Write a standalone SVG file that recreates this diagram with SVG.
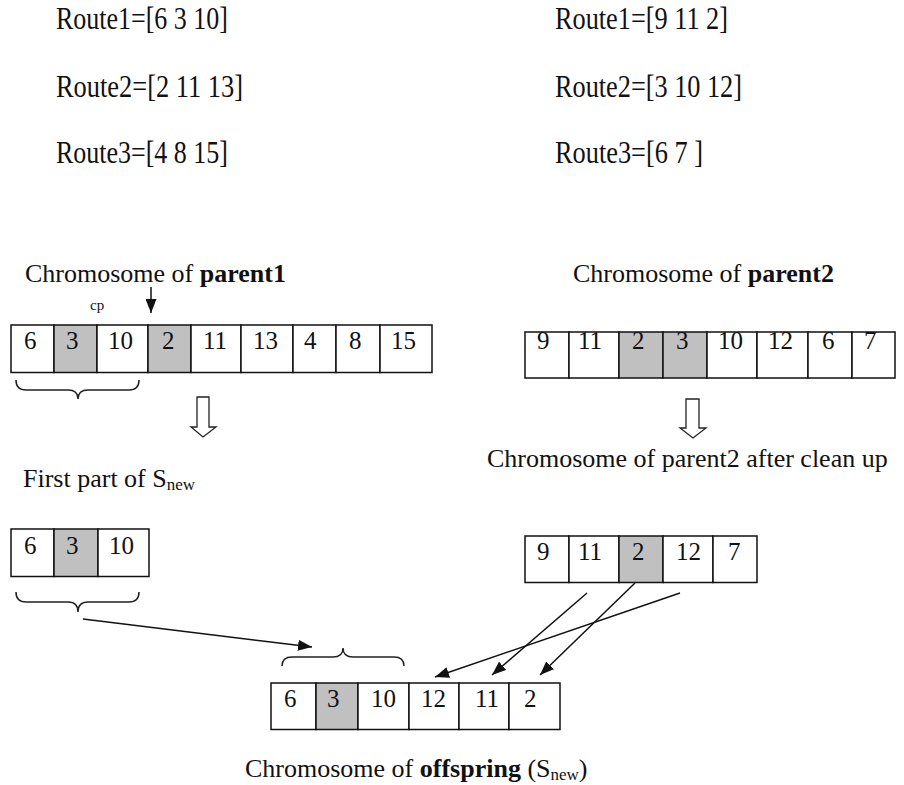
<svg xmlns="http://www.w3.org/2000/svg" width="904" height="785" viewBox="0 0 904 785">
<defs>
<style>
text{font-family:"Liberation Serif","Times New Roman",serif;fill:#111}
.rt{font-size:31px}
.cap{font-size:26px}
.sub{font-size:17px}
.num{font-size:25px}
.cell{fill:#fff;stroke:#111;stroke-width:1.5}
.gray{fill:#c0c0c0}
.ln{stroke:#111;stroke-width:1.5;fill:none}
.brace{stroke:#222;stroke-width:1.5;fill:none}
.hollow{fill:#fff;stroke:#222;stroke-width:1.3}
</style>
<marker id="ah" markerUnits="userSpaceOnUse" markerWidth="14" markerHeight="11" refX="14" refY="5.5" orient="auto">
<path d="M0,0 L14,5.5 L0,11 Z" fill="#111"/>
</marker>
</defs>
<rect width="904" height="785" fill="#fff"/>

<g id="routes-parent1">
<text class="rt" x="56" y="29" textLength="172" lengthAdjust="spacingAndGlyphs">Route1=[6 3 10]</text>
<text class="rt" x="56" y="97" textLength="187" lengthAdjust="spacingAndGlyphs">Route2=[2 11 13]</text>
<text class="rt" x="56" y="163" textLength="172" lengthAdjust="spacingAndGlyphs">Route3=[4 8 15]</text>
</g>
<g id="routes-parent2">
<text class="rt" x="555" y="29" textLength="173" lengthAdjust="spacingAndGlyphs">Route1=[9 11 2]</text>
<text class="rt" x="555" y="97" textLength="187" lengthAdjust="spacingAndGlyphs">Route2=[3 10 12]</text>
<text class="rt" x="555" y="163" textLength="148" lengthAdjust="spacingAndGlyphs">Route3=[6 7 ]</text>
</g>

<g id="parent1">
<text class="cap" x="25" y="282">Chromosome of <tspan font-weight="bold">parent1</tspan></text>
<text x="90" y="310" font-size="15">cp</text>
<rect class="cell" x="11" y="325" width="43" height="47.5"/>
<rect class="cell gray" x="54" y="325" width="43" height="47.5"/>
<rect class="cell" x="97" y="325" width="51" height="47.5"/>
<rect class="cell gray" x="148" y="325" width="43" height="47.5"/>
<rect class="cell" x="191" y="325" width="50" height="47.5"/>
<rect class="cell" x="241" y="325" width="52" height="47.5"/>
<rect class="cell" x="293" y="325" width="43" height="47.5"/>
<rect class="cell" x="336" y="325" width="44" height="47.5"/>
<rect class="cell" x="380" y="325" width="52" height="47.5"/>
<text class="num" x="24" y="349">6</text>
<text class="num" x="66" y="349">3</text>
<text class="num" x="108" y="349">10</text>
<text class="num" x="162" y="349">2</text>
<text class="num" x="203" y="349">11</text>
<text class="num" x="253" y="349">13</text>
<text class="num" x="304" y="349">4</text>
<text class="num" x="349" y="349">8</text>
<text class="num" x="391" y="349">15</text>
<path class="brace" d="M16,380 Q16,390 26,390 L68,390 Q78,390 78,399 Q78,390 88,390 L129,390 Q139,390 139,380"/>
</g>

<g id="parent2">
<text class="cap" x="573" y="282">Chromosome of <tspan font-weight="bold">parent2</tspan></text>
<rect class="cell" x="525" y="332" width="44" height="46"/>
<rect class="cell" x="569" y="332" width="50" height="46"/>
<rect class="cell gray" x="619" y="332" width="44" height="46"/>
<rect class="cell gray" x="663" y="332" width="44" height="46"/>
<rect class="cell" x="707" y="332" width="50" height="46"/>
<rect class="cell" x="757" y="332" width="51" height="46"/>
<rect class="cell" x="808" y="332" width="44" height="46"/>
<rect class="cell" x="852" y="332" width="43" height="46"/>
<text class="num" x="537" y="349">9</text>
<text class="num" x="578" y="349">11</text>
<text class="num" x="632" y="349">2</text>
<text class="num" x="676" y="349">3</text>
<text class="num" x="718" y="349">10</text>
<text class="num" x="768" y="349">12</text>
<text class="num" x="822" y="349">6</text>
<text class="num" x="864" y="349">7</text>
</g>

<g id="first-part">
<text class="cap" x="23" y="487">First part of S<tspan class="sub" dy="3">new</tspan></text>
<rect class="cell" x="11" y="529" width="43" height="47.5"/>
<rect class="cell gray" x="54" y="529" width="44" height="47.5"/>
<rect class="cell" x="98" y="529" width="51" height="47.5"/>
<text class="num" x="24" y="554">6</text>
<text class="num" x="66" y="554">3</text>
<text class="num" x="109" y="554">10</text>
<path class="brace" d="M16,592 Q16,602 26,602 L68,602 Q78,602 78,612 Q78,602 88,602 L129,602 Q139,602 139,592"/>
</g>

<g id="parent2-clean">
<text class="cap" x="487" y="467">Chromosome of parent2 after clean up</text>
<rect class="cell" x="525" y="536" width="44" height="46.5"/>
<rect class="cell" x="569" y="536" width="50" height="46.5"/>
<rect class="cell gray" x="619" y="536" width="44" height="46.5"/>
<rect class="cell" x="663" y="536" width="50" height="46.5"/>
<rect class="cell" x="713" y="536" width="44" height="46.5"/>
<text class="num" x="537" y="560">9</text>
<text class="num" x="578" y="560">11</text>
<text class="num" x="632" y="560">2</text>
<text class="num" x="676" y="560">12</text>
<text class="num" x="728" y="560">7</text>
</g>

<g id="offspring">
<rect class="cell" x="271" y="683" width="45" height="46.5"/>
<rect class="cell gray" x="316" y="683" width="42" height="46.5"/>
<rect class="cell" x="358" y="683" width="51" height="46.5"/>
<rect class="cell" x="409" y="683" width="50" height="46.5"/>
<rect class="cell" x="459" y="683" width="50" height="46.5"/>
<rect class="cell" x="509" y="683" width="51" height="46.5"/>
<text class="num" x="284" y="707">6</text>
<text class="num" x="327" y="707">3</text>
<text class="num" x="371" y="707">10</text>
<text class="num" x="421" y="707">12</text>
<text class="num" x="475" y="707">11</text>
<text class="num" x="524" y="707">2</text>
<path class="brace" d="M282,666 Q282,657 292,657 L333,657 Q343,657 343,648 Q343,657 353,657 L394,657 Q404,657 404,666"/>
<text class="cap" x="245" y="777">Chromosome of <tspan font-weight="bold">offspring</tspan> (S<tspan class="sub" dy="3">new</tspan><tspan dy="-3">)</tspan></text>
</g>

<g id="connectors">
<line class="ln" x1="151" y1="287" x2="151" y2="313" marker-end="url(#ah)"/>
<path class="hollow" d="M197,397 L209,397 L209,427 L216,427 L203,437 L191,427 L197,427 Z"/>
<path class="hollow" d="M686,399 L699,399 L699,428 L706,428 L693,438 L680,428 L686,428 Z"/>
<line class="ln" x1="83" y1="619" x2="312" y2="647" marker-end="url(#ah)"/>
<line class="ln" x1="587" y1="593" x2="492" y2="675" marker-end="url(#ah)"/>
<line class="ln" x1="635" y1="583" x2="540" y2="675" marker-end="url(#ah)"/>
<line class="ln" x1="680" y1="593" x2="435" y2="677" marker-end="url(#ah)"/>
</g>
</svg>
